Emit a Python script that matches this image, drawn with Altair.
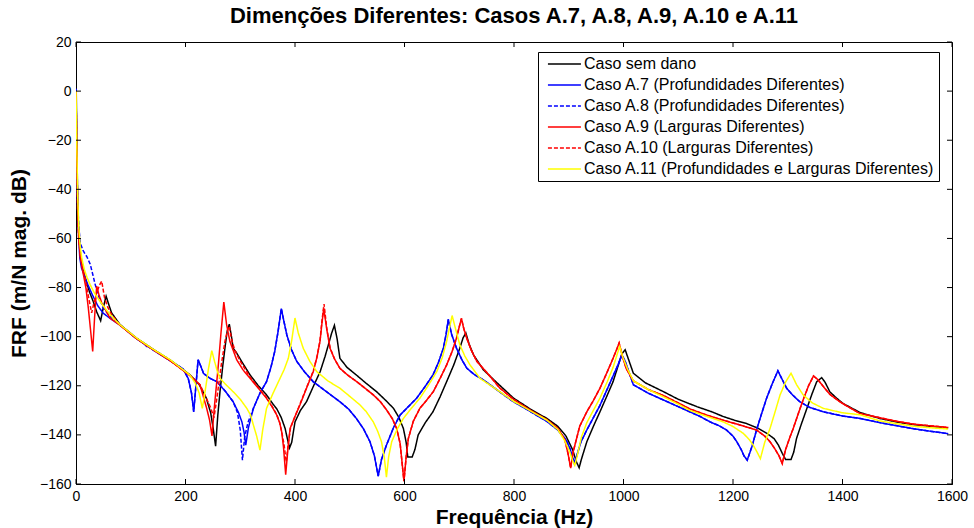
import altair as alt
import pandas as pd

# ---------------- data ----------------
series_names = [
    "Caso sem dano",
    "Caso A.7 (Profundidades Diferentes)",
    "Caso A.8 (Profundidades Diferentes)",
    "Caso A.9 (Larguras Diferentes)",
    "Caso A.10 (Larguras Diferentes)",
    "Caso A.11 (Profundidades e Larguras Diferentes)",
]
series_colors = ["#000000", "#0000ff", "#0000ff", "#ff0000", "#ff0000", "#ffff00"]
series_dashes = [[1, 0], [1, 0], [4, 2], [1, 0], [4, 2], [1, 0]]

x_ticks = [0, 200, 400, 600, 800, 1000, 1200, 1400, 1600]
y_ticks = [-160, -140, -120, -100, -80, -60, -40, -20, 0, 20]

caso_sem_dano = [
    (0, 9), (1.5, -20), (3, -45), (5, -58), (8, -66), (12, -72), (18, -77), (25, -82),
    (32, -86), (38, -90), (45, -93.5), (50, -88), (55, -83.5), (60, -87), (65, -90.3),
    (80, -95), (110, -100.5), (140, -105), (172, -109.5), (208, -115.5), (225, -119.5),
    (238, -125), (246, -131), (251, -138), (255, -144.6), (259, -132), (263, -122.4),
    (268, -112), (272, -104.7), (276, -98), (280, -94.9), (284, -100), (287, -104.7),
    (293, -106.5), (305, -111), (318, -115.6), (333, -120), (348, -123.7), (360, -127.5),
    (367, -129.5), (375, -133), (382, -137.4), (386, -141.5), (390, -145.3), (394, -143),
    (400, -134.7), (410, -130), (421, -126.5), (433, -120.5), (446, -114.2), (455, -108),
    (461, -103.3), (467, -98.5), (472, -95.4), (477, -101), (482, -108.8), (495, -112.5),
    (512, -115.6), (530, -119), (549, -122.4), (565, -125.8), (580, -129.2), (590, -133),
    (598, -137.4), (603, -143), (606, -149), (614, -149), (619, -146), (625, -140),
    (638, -135), (652, -130.6), (665, -124.5), (677, -118.3), (690, -111.5), (701, -104.7),
    (707, -100.5), (712, -98.5), (718, -103), (726, -107.4), (744, -113.5), (770, -119),
    (799, -125), (830, -129.5), (860, -133.3), (880, -136.5), (895, -140.5), (907, -146),
    (914, -151), (919, -153.4), (923, -150), (933, -142.8), (945, -136.5), (957, -130.6),
    (970, -124), (981, -118.3), (990, -112), (997, -107), (1003, -105.3), (1008, -108.5),
    (1018, -114.9), (1040, -118.8), (1073, -122.4), (1100, -125.5), (1134, -128.5),
    (1160, -130.5), (1182, -132.5), (1205, -134.2), (1225, -135.4), (1245, -137.2),
    (1262, -139.4), (1275, -141.5), (1283, -144.2), (1290, -147.5), (1296, -150),
    (1306, -150), (1311, -147), (1316, -141.5), (1325, -135.5), (1335, -129.2),
    (1344, -123.5), (1353, -118.3), (1362, -116.7), (1368, -118.5), (1377, -122.5),
    (1389, -125), (1401, -127.2), (1432, -130.9), (1468, -133.3), (1500, -134.8),
    (1529, -135.8), (1560, -136.5), (1593, -137.2),
]

caso_a7 = [
    (0, 1), (1.5, -25), (3, -48), (5, -60), (7, -68), (10, -72), (15, -75), (22, -79),
    (30, -83), (40, -87.5), (50, -90.5), (65, -93), (80, -95.2), (110, -100.7), (125, -103),
    (129, -104), (133, -104), (140, -105.3), (172, -109.8), (195, -113), (205, -117),
    (211, -123), (215, -130.6), (219, -120), (223, -109.4), (227, -111.5), (233, -115),
    (245, -117), (257, -118.3), (272, -122), (287, -126.5), (297, -131), (303, -134.7),
    (307, -139), (310, -144.2), (315, -137), (324, -129.2), (336, -123), (348, -118.3),
    (356, -112.5), (363, -106), (369, -98), (375, -88.6), (380, -94), (385, -99.2),
    (393, -105), (403, -110), (418, -114.5), (433, -118.3), (458, -122.5), (482, -126.5),
    (498, -129.5), (512, -133.3), (525, -137.5), (537, -142.8), (545, -148.5), (552, -156.8),
    (558, -150), (567, -144.2), (580, -137), (592, -131.9), (607, -128.5), (622, -125.1),
    (637, -120.5), (652, -115.6), (662, -110.5), (671, -104.7), (676, -99), (680, -93),
    (686, -99), (695, -104.7), (705, -109.5), (714, -112.9), (728, -115.5), (744, -117.6),
    (774, -122.5), (799, -126.5), (830, -130.5), (860, -134.5), (880, -138), (895, -142),
    (903, -146), (910, -151.5), (914, -149), (922, -143), (933, -138), (945, -133),
    (957, -128), (970, -121.5), (981, -116), (990, -111.5), (997, -107.4), (1003, -110),
    (1010, -114.5), (1018, -119.6), (1045, -123), (1073, -125.8), (1100, -128.5),
    (1121, -130.6), (1140, -132.5), (1158, -134.7), (1175, -136.3), (1188, -138),
    (1200, -140.5), (1207, -142.8), (1215, -146), (1220, -148.5), (1226, -150.3),
    (1235, -144.5), (1243, -138), (1252, -131.5), (1261.5, -125), (1272, -119),
    (1282, -113.9), (1290, -117.5), (1298, -121), (1310, -124), (1322, -126.5),
    (1340, -128.8), (1365, -130.6), (1400, -132.3), (1432, -133.3), (1468, -135),
    (1500, -136.3), (1530, -137.5), (1560, -138.5), (1593, -139.5),
]

caso_a8 = [
    (0, 1), (1.5, -25), (3, -45), (5, -55), (8, -62), (13, -65), (20, -67.5), (26, -70.5),
    (31, -75), (35, -78.7), (42, -84), (50, -88.5), (65, -92.5), (80, -95.2), (110, -100.7),
    (140, -105.3), (172, -109.8), (195, -113), (205, -117), (211, -123), (215, -130.6),
    (219, -120), (223, -109.4), (227, -111.5), (233, -115), (245, -117), (257, -118.3),
    (272, -122), (287, -126.5), (295, -131), (300, -138), (304, -150.3), (308, -141),
    (314, -135), (324, -129.2), (336, -123), (348, -118.3), (356, -112.5), (363, -106),
    (369, -98), (375, -88.6), (380, -94), (385, -99.2), (393, -105), (403, -110),
    (418, -114.5), (433, -118.3), (458, -122.5), (482, -126.5), (498, -129.5), (512, -133.3),
    (525, -137.5), (537, -142.8), (545, -148.5), (552, -156.8), (558, -150), (567, -144.2),
    (580, -137), (592, -131.9), (607, -128.5), (622, -125.1), (637, -120.5), (652, -115.6),
    (662, -110.5), (671, -104.7), (676, -99), (680, -93), (686, -99), (695, -104.7),
    (705, -109.5), (714, -112.9), (728, -115.5), (744, -117.6), (774, -122.5), (799, -126.5),
    (830, -130.5), (860, -134.5), (880, -138), (895, -142), (903, -146), (910, -151.5),
    (914, -149), (922, -143), (933, -138), (945, -133), (957, -128), (970, -121.5),
    (981, -116), (990, -111.5), (997, -107.4), (1003, -110), (1010, -114.5), (1018, -119.6),
    (1045, -123), (1073, -125.8), (1100, -128.5), (1121, -130.6), (1140, -132.5),
    (1158, -134.7), (1175, -136.3), (1188, -138), (1200, -140.5), (1207, -142.8),
    (1215, -146), (1220, -148.5), (1226, -150.3), (1235, -144.5), (1243, -138),
    (1252, -131.5), (1261.5, -125), (1272, -119), (1282, -113.9), (1290, -117.5),
    (1298, -121), (1310, -124), (1322, -126.5), (1340, -128.8), (1365, -130.6),
    (1400, -132.3), (1432, -133.3), (1468, -135), (1500, -136.3), (1530, -137.5),
    (1560, -138.5), (1593, -139.5),
]

caso_a9 = [
    (0, 0), (1.5, -25), (3, -48), (5, -60), (8, -68), (13.4, -74.6), (18, -80), (22.5, -88.3),
    (26, -96), (30.5, -106), (34, -92), (37.8, -79.4), (42, -83), (47, -86.2), (55, -89.5),
    (62, -92.4), (80, -95.3), (110, -100.7), (140, -105.2), (172, -109.8), (208, -115.8),
    (226.5, -119.6), (238.7, -129.2), (244, -134), (248.4, -140.4), (253, -128), (260, -111.5),
    (265, -98), (270, -85.9), (275, -95), (281, -101.9), (293.5, -109.4), (305, -113.5),
    (318, -117), (333, -121), (348, -125.1), (358, -128.5), (366.6, -131.9), (372, -135),
    (375.7, -138.8), (379, -145), (383, -156.2), (387, -146), (391, -137.4), (400, -132.5),
    (409, -127.8), (421, -121), (433.4, -114.2), (440, -108.5), (445.7, -101.9), (449, -95),
    (452.5, -88.5), (458, -97), (464, -104.7), (472, -109), (482, -112.9), (497, -115.8),
    (512.6, -118.3), (528, -121), (543, -123.7), (556, -126.5), (567.5, -129.9), (578, -133.5),
    (585.7, -137.4), (592, -143.5), (599, -158.9), (603, -149), (607, -141.5), (616, -134.5),
    (628, -129.2), (640, -126), (652.6, -122.4), (665, -117), (677, -111.5), (687, -106),
    (695, -100.6), (700, -96), (704, -92.6), (708, -96.5), (713.6, -100.6), (722, -105.5),
    (732, -110), (750, -114.5), (774, -120.9), (799, -125.5), (830, -130), (860, -133.8),
    (880, -137.3), (893, -142), (899, -148), (903.5, -153.5), (908, -147), (920, -136.5),
    (933, -130.6), (945, -126), (957, -121), (970, -114.5), (981, -108.8), (987, -105.5),
    (992, -102.6), (998, -108), (1005, -113), (1018, -118), (1045, -121.5), (1073, -124),
    (1100, -127), (1121, -129.4), (1150, -131.8), (1182, -134), (1210, -135.8), (1243, -138),
    (1258, -140.5), (1267.6, -142.8), (1276, -145.5), (1284, -148.5), (1290, -151.7),
    (1296, -146), (1303, -141.5), (1310, -137.4), (1319, -131.5), (1328, -125.8),
    (1338, -120), (1347, -116), (1355, -117.5), (1365, -120.3), (1377, -123.5),
    (1395, -126.5), (1410, -128.5), (1432, -131.3), (1468, -133), (1500, -134.5),
    (1529, -135.6), (1560, -136.3), (1593, -137),
]

caso_a10 = [
    (0, 0), (1.5, -25), (3, -48), (5, -60), (8, -67), (13, -72), (18, -78), (23, -84),
    (28.6, -90.3), (33, -86), (38, -82), (43, -79), (47, -77.4), (52, -84), (58, -88),
    (65, -91), (80, -95.2), (110, -100.7), (140, -105.2), (172, -109.8), (208, -115.8),
    (226.5, -119.6), (238, -125), (246, -129), (252, -133), (258, -124), (265, -112),
    (272, -102), (277, -97), (280, -95.8), (284, -101), (290, -105.5), (300, -110),
    (318, -116.5), (333, -120.7), (348, -124.8), (358, -128.3), (366.6, -131.7), (372, -135),
    (376, -139), (380, -144), (384, -151), (388, -143), (392, -137), (400, -132.5),
    (409, -127.5), (421, -120.8), (433.4, -114), (440, -108.3), (445.7, -101.5), (449, -94),
    (453, -86.7), (458, -96.5), (464, -104.5), (472, -109), (482, -112.9), (497, -115.8),
    (512.6, -118.3), (528, -121), (543, -123.7), (556, -126.5), (567.5, -129.9), (578, -133.5),
    (585.7, -137.4), (592, -143.5), (599, -158.9), (603, -149), (607, -141.5), (616, -134.5),
    (628, -129.2), (640, -126), (652.6, -122.4), (665, -117), (677, -111.5), (687, -106),
    (695, -100.6), (700, -96), (704, -92.6), (708, -96.5), (713.6, -100.6), (722, -105.5),
    (732, -110), (750, -114.5), (774, -120.9), (799, -125.5), (830, -130), (860, -133.8),
    (880, -137.3), (893, -142), (899, -148), (903.5, -153.5), (908, -147), (920, -136.5),
    (933, -130.6), (945, -126), (957, -121), (970, -114.5), (981, -108.8), (987, -105.5),
    (992, -102.6), (998, -108), (1005, -113), (1018, -118), (1045, -121.5), (1073, -124),
    (1100, -127), (1121, -129.4), (1150, -131.8), (1182, -134), (1210, -135.8), (1243, -138),
    (1258, -140.5), (1267.6, -142.8), (1276, -145.5), (1284, -148.5), (1290, -151.7),
    (1296, -146), (1303, -141.5), (1310, -137.4), (1319, -131.5), (1328, -125.8),
    (1338, -120), (1347, -116), (1355, -117.5), (1365, -120.3), (1377, -123.5),
    (1395, -126.5), (1410, -128.5), (1432, -131.3), (1468, -133), (1500, -134.5),
    (1529, -135.6), (1560, -136.3), (1593, -137),
]

caso_a11 = [
    (0, 0), (1.5, -22), (3, -42), (5, -55), (7.5, -63), (10.4, -67.8), (15, -72.5), (20, -75.8),
    (25.6, -78.7), (33, -82), (43.8, -85.6), (55, -89), (65, -91.7), (80, -95.1), (111, -100.6),
    (140, -105), (172, -109.4), (208, -115.6), (218, -119), (225, -123), (230.7, -129.2),
    (236, -122), (242, -113), (248, -105.7), (253, -110), (258, -114), (263, -117),
    (275, -119.8), (287, -122.4), (300, -125.5), (312, -129.2), (319, -132), (324, -136),
    (330, -140.5), (336, -146.2), (341, -138), (348, -129.2), (360, -123), (372.6, -117),
    (380, -113.5), (387.8, -108.8), (394, -101.5), (400, -92.4), (406, -98.5), (415, -104.7),
    (427, -110), (439.6, -114.2), (460, -118), (482, -121), (500, -124.3), (518.7, -127.8),
    (530, -130.5), (543, -134.7), (551, -138.5), (558, -142.8), (563, -149), (567, -157.2),
    (571, -149), (576.6, -142.8), (587, -137.5), (598, -133.3), (612, -129.3), (628, -125.1),
    (643, -120), (659, -114.2), (669, -108.5), (677, -101.9), (682, -96.5), (687, -91.4),
    (694, -97.5), (701, -103.3), (710, -107.8), (719.6, -111.5), (738, -117), (774, -122.4),
    (799, -126.3), (830, -130.2), (860, -134), (880, -137.8), (893, -142.5), (902, -147),
    (907, -150.5), (911, -152.4), (915, -149), (923, -141), (933, -135), (945, -130),
    (957, -125), (970, -118.5), (981, -112.5), (988, -107.5), (993, -104), (999, -108.5),
    (1008, -113.5), (1018, -118), (1045, -121.5), (1073, -124.5), (1100, -127.5),
    (1121, -130), (1150, -132.3), (1182, -134.7), (1200, -136.6), (1219, -139.4),
    (1230, -142), (1237, -144.2), (1244, -147), (1250, -149.7), (1258, -143),
    (1267.6, -137.4), (1277, -130.5), (1286, -123.7), (1296, -118.5), (1306, -114.9),
    (1316, -119.5), (1328, -123.7), (1345, -127), (1365, -129.2), (1400, -131),
    (1432, -131.8), (1468, -134.3), (1500, -135.5), (1530, -136.5), (1560, -137.1),
    (1593, -137.6),
]

all_series = [caso_sem_dano, caso_a7, caso_a8, caso_a9, caso_a10, caso_a11]

# ---------------- build table ----------------
rows = []
for name, pts in zip(series_names, all_series):
    for f, v in pts:
        rows.append({"serie": name, "freq": f, "frf": v})
df = pd.DataFrame(rows)

W, H = 876, 442
FONT = "Liberation Sans"

xscale = alt.Scale(domain=[0, 1600], nice=False, zero=False)
yscale = alt.Scale(domain=[-160, 20], nice=False, zero=False)
color_scale = alt.Scale(domain=series_names, range=series_colors)
dash_scale = alt.Scale(domain=series_names, range=series_dashes)

x_axis = alt.Axis(values=x_ticks, title="Frequência (Hz)", grid=False, ticks=False,
                  labelFontSize=14, titleFontSize=21, titleFontWeight="bold",
                  labelPadding=5, titlePadding=3, format="d", labelFlush=False)
y_axis = alt.Axis(values=y_ticks, title="FRF (m/N mag. dB)", grid=False, ticks=False,
                  labelFontSize=14, titleFontSize=21, titleFontWeight="bold",
                  labelPadding=5, titlePadding=10, format="d", labelFlush=False)

layers = []
for name in series_names:
    layers.append(
        alt.Chart(df).transform_filter(alt.datum.serie == name)
        .mark_line(strokeWidth=1.5, clip=True)
        .encode(
            x=alt.X("freq:Q", scale=xscale, axis=x_axis),
            y=alt.Y("frf:Q", scale=yscale, axis=y_axis),
            color=alt.Color("serie:N", scale=color_scale, title=None),
            strokeDash=alt.StrokeDash("serie:N", scale=dash_scale, title=None),
        )
    )

xt = pd.DataFrame({"t": x_ticks})
yt = pd.DataFrame({"t": y_ticks})
tick_bottom = alt.Chart(xt).mark_rule(color="black", strokeWidth=1).encode(
    x=alt.X("t:Q", scale=xscale), y=alt.value(H), y2=alt.value(H - 5))
tick_top = alt.Chart(xt).mark_rule(color="black", strokeWidth=1).encode(
    x=alt.X("t:Q", scale=xscale), y=alt.value(0), y2=alt.value(5))
tick_left = alt.Chart(yt).mark_rule(color="black", strokeWidth=1).encode(
    y=alt.Y("t:Q", scale=yscale), x=alt.value(0), x2=alt.value(5))
tick_right = alt.Chart(yt).mark_rule(color="black", strokeWidth=1).encode(
    y=alt.Y("t:Q", scale=yscale), x=alt.value(W), x2=alt.value(W - 5))

chart = alt.layer(*layers, tick_bottom, tick_top, tick_left, tick_right).properties(
    width=W,
    height=H,
    padding={"left": 76, "top": 42, "right": 22, "bottom": 44},
    autosize=alt.AutoSizeParams(type="none"),
    title=alt.TitleParams(
        "Dimenções Diferentes: Casos A.7, A.8, A.9, A.10 e A.11",
        fontSize=22, fontWeight="bold", font=FONT, color="black",
        anchor="middle", offset=7,
    ),
).configure(
    font=FONT,
).configure_view(
    stroke="black", strokeWidth=1,
).configure_axis(
    domainColor="black", domainWidth=1, labelColor="black", titleColor="black",
    labelFont=FONT, titleFont=FONT,
).configure_legend(
    orient="none", legendX=462, legendY=10,
    strokeColor="black", fillColor="white", padding=4, cornerRadius=0,
    labelFont=FONT, labelFontSize=16, labelColor="black", labelLimit=600,
    symbolType="M-0.5,0L7.5,0", symbolSize=68, symbolStrokeWidth=1.5,
    labelOffset=26, rowPadding=5,
)

chart.save("out.html", embed_options={"renderer": "svg", "actions": False})
